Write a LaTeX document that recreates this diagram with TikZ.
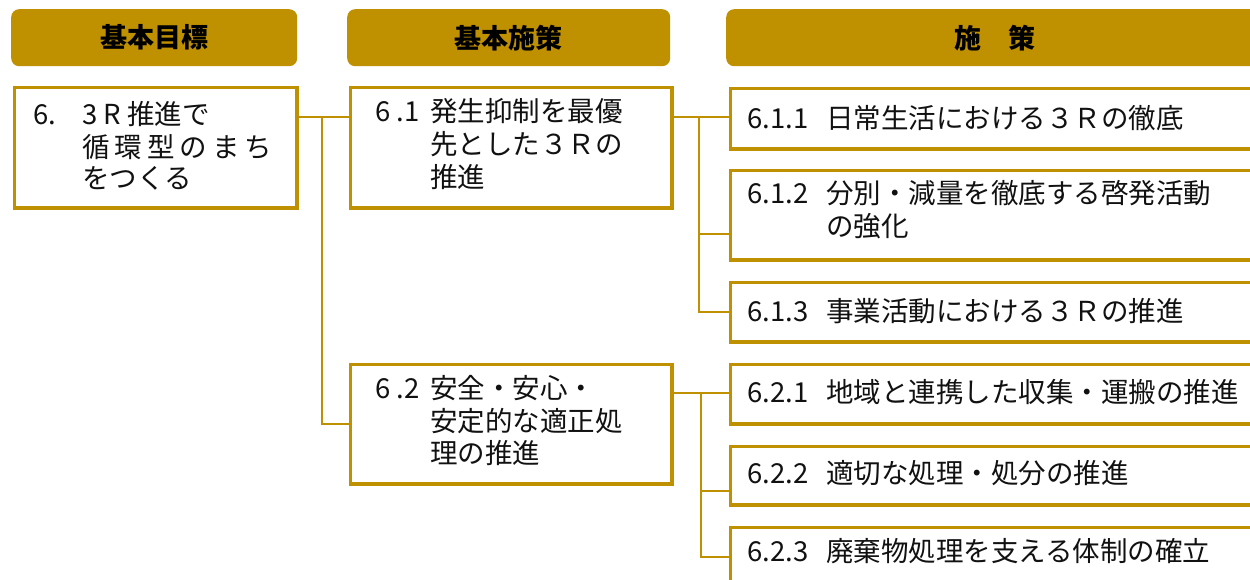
\documentclass[tikz,border=0pt]{standalone}
\usepackage{fontspec}
\setmainfont{Noto Sans CJK JP}
\usetikzlibrary{calc}
\definecolor{gold}{HTML}{BF9000}
\definecolor{ink}{HTML}{111111}
\newcommand{\lblcol}[2]{\makebox[#1][l]{#2}}
\begin{document}
\begin{tikzpicture}[x=1pt,y=-1pt,
  hdr/.style={fill=gold, rounded corners=8pt, draw=none, inner sep=0pt, anchor=north west,
    font=\bfseries\fontsize{27}{30}\selectfont, text=black},
  box/.style={draw=gold, line width=3.6pt, fill=white, inner sep=0pt, anchor=north west},
  txt/.style={anchor=west, inner sep=0pt, text=ink, font=\fontsize{27.5}{32}\selectfont},
  conn/.style={draw=gold, line width=2pt}]
\useasboundingbox (0,0) rectangle (1250,579);
\clip (0,0) rectangle (1250,579);
% headers
\node[hdr, minimum width=286pt, minimum height=57pt] (h1) at (11,9) {基本目標};
\node[hdr, minimum width=323pt, minimum height=57pt] (h2) at (347,9) {基本施策};
\node[hdr, minimum width=538pt, minimum height=57pt] (h3) at (726,9) {施\quad 策};
% boxes
\node[box, minimum width=282.4pt, minimum height=120.4pt] (g) at (12.8,85.8) {};
\node[box, minimum width=321.4pt, minimum height=120.4pt] (p1) at (348.8,85.8) {};
\node[box, minimum width=321.4pt, minimum height=119.4pt] (p2) at (348.8,362.8) {};
\node[box, minimum width=534.4pt, minimum height=60.4pt] (m11) at (728.8,86.8) {};
\node[box, minimum width=534.4pt, minimum height=89.4pt] (m12) at (728.8,168.8) {};
\node[box, minimum width=534.4pt, minimum height=59.4pt] (m13) at (728.8,280.8) {};
\node[box, minimum width=534.4pt, minimum height=59.4pt] (m21) at (728.8,362.8) {};
\node[box, minimum width=534.4pt, minimum height=58.4pt] (m22) at (728.8,444.8) {};
\node[box, minimum width=534.4pt, minimum height=59.4pt] (m23) at (728.8,525.8) {};
% connectors: goal -> policies
\coordinate (ga) at ($(g.north east)!0.25!(g.south east)$);
\coordinate (bus0) at (322,0);
\draw[conn] (ga) -- (ga -| p1.west);
\draw[conn] (ga -| bus0) |- (p2.west);
% p1 -> measures
\coordinate (pa) at ($(p1.north east)!0.25!(p1.south east)$);
\coordinate (bus1) at (699,0);
\coordinate (m12b) at ($(m12.north west)!0.7!(m12.south west)$);
\draw[conn] (pa) -- (pa -| m11.west);
\draw[conn] (pa -| bus1) |- (m13.west);
\draw[conn] (bus1 |- m12b) -- (m12b);
% p2 -> measures
\coordinate (qa) at ($(p2.north east)!0.245!(p2.south east)$);
\coordinate (bus2) at (701,0);
\coordinate (m22b) at ($(m22.north west)!0.74!(m22.south west)$);
\draw[conn] (qa) -- (qa -| m21.west);
\draw[conn] (qa -| bus2) |- (m23.west);
\draw[conn] (bus2 |- m22b) -- (m22b);
% texts
\node[txt, font=\fontsize{27.5}{31.5}\selectfont] (tg) at ($(g.west)+(20.2,2)$) {\begin{tabular}{@{}l@{}}
\lblcol{49pt}{6.}3 R 推進で\\
\lblcol{49pt}{}循\kern5pt 環\kern5pt 型\kern5pt の\kern5pt ま\kern5pt ち\\
\lblcol{49pt}{}をつくる\end{tabular}};
\node[txt] (tp1) at ($(p1.west)+(26.2,0)$) {\begin{tabular}{@{}l@{}}
\lblcol{55pt}{6 .1}発生抑制を最優\\
\lblcol{55pt}{}先とした３Ｒの\\
\lblcol{55pt}{}推進\end{tabular}};
\node[txt] (tp2) at ($(p2.west)+(26.2,0)$) {\begin{tabular}{@{}l@{}}
\lblcol{55pt}{6 .2}安全・安心・\\
\lblcol{55pt}{}安定的な適正処\\
\lblcol{55pt}{}理の推進\end{tabular}};
\node[txt] (t11) at (747,118) {\lblcol{79pt}{6.1.1}日常生活における３Ｒの徹底};
\node[txt] (t12) at (747,213.5) {\begin{tabular}{@{}l@{}}
\lblcol{79pt}{6.1.2}分別・減量を徹底する啓発活動\\
\lblcol{79pt}{}の強化\end{tabular}};
\node[txt] (t13) at (747,311) {\lblcol{79pt}{6.1.3}事業活動における３Ｒの推進};
\node[txt] (t21) at (747,392) {\lblcol{79pt}{6.2.1}地域と連携した収集・運搬の推進};
\node[txt] (t22) at (747,473) {\lblcol{79pt}{6.2.2}適切な処理・処分の推進};
\node[txt] (t23) at (747,551) {\lblcol{79pt}{6.2.3}廃棄物処理を支える体制の確立};
\end{tikzpicture}
\end{document}
